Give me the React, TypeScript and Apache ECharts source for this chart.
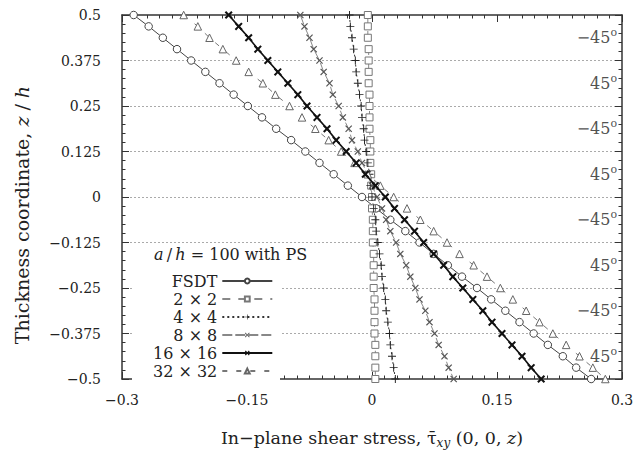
import React, { useEffect, useRef } from "react";
import * as echarts from "echarts";

const FONT = "'DejaVu Serif', 'Liberation Serif', serif";

// Thickness coordinates z/h of the sampled points (top to bottom)
const zValues = [
  0.5, 0.46875, 0.4375, 0.40625, 0.375, 0.34375, 0.3125, 0.28125, 0.25, 0.21875,
  0.1875, 0.15625, 0.125, 0.09375, 0.0625, 0.03125, 0, -0.03125, -0.0625, -0.09375,
  -0.125, -0.15625, -0.1875, -0.21875, -0.25, -0.28125, -0.3125, -0.34375, -0.375,
  -0.40625, -0.4375, -0.46875, -0.5,
];

const fsdt = [
  -0.286, -0.268, -0.251, -0.234, -0.217, -0.2, -0.183, -0.166, -0.149, -0.132,
  -0.115, -0.097, -0.08, -0.063, -0.046, -0.029, -0.012, 0.005, 0.022, 0.04,
  0.057, 0.074, 0.091, 0.108, 0.126, 0.143, 0.16, 0.177, 0.194, 0.211, 0.229,
  0.245, 0.263,
];
const mesh2 = [
  -0.005, -0.005, -0.005, -0.004, -0.004, -0.004, -0.004, -0.003, -0.003, -0.003,
  -0.003, -0.002, -0.002, -0.002, -0.001, -0.001, 0.0, 0.0, 0.001, 0.001, 0.001,
  0.002, 0.002, 0.002, 0.002, 0.003, 0.003, 0.003, 0.003, 0.004, 0.004, 0.004,
  0.004,
];
const mesh4 = [
  -0.027, -0.026, -0.024, -0.022, -0.02, -0.019, -0.017, -0.015, -0.013, -0.012,
  -0.01, -0.009, -0.007, -0.005, -0.003, -0.002, 0.0, 0.002, 0.004, 0.005, 0.007,
  0.009, 0.011, 0.012, 0.014, 0.016, 0.017, 0.019, 0.021, 0.022, 0.024, 0.026,
  0.028,
];
const mesh8 = [
  -0.086, -0.081, -0.075, -0.07, -0.063, -0.058, -0.051, -0.047, -0.04, -0.035,
  -0.028, -0.024, -0.017, -0.012, -0.005, 0.0, 0.006, 0.012, 0.017, 0.022, 0.029,
  0.034, 0.041, 0.046, 0.052, 0.057, 0.064, 0.069, 0.075, 0.08, 0.087, 0.092,
  0.098,
];
const mesh16 = [
  -0.172, -0.16, -0.148, -0.137, -0.125, -0.113, -0.101, -0.089, -0.078, -0.066,
  -0.054, -0.043, -0.031, -0.019, -0.008, 0.004, 0.016, 0.027, 0.039, 0.051,
  0.062, 0.074, 0.086, 0.097, 0.109, 0.121, 0.133, 0.144, 0.156, 0.168, 0.18,
  0.191, 0.203,
];
const mesh32 = [
  -0.226, -0.209, -0.195, -0.179, -0.163, -0.148, -0.131, -0.116, -0.099, -0.084,
  -0.068, -0.052, -0.037, -0.021, -0.005, 0.01, 0.026, 0.042, 0.058, 0.074, 0.09,
  0.105, 0.122, 0.138, 0.154, 0.169, 0.185, 0.201, 0.217, 0.233, 0.249, 0.265,
  0.28,
];

const seriesNames = ["FSDT", "2 × 2", "4 × 4", "8 × 8", "16 × 16", "32 × 32"];

// Ply orientation labels (layer mid-planes)
const layerZ = [0.4375, 0.3125, 0.1875, 0.0625, -0.0625, -0.1875, -0.3125, -0.4375];
const layerAngles = ["\u221245", "45", "\u221245", "45", "\u221245", "45", "\u221245", "45"];

const xTickLabels: Record<string, string> = {
  "-0.3": "\u22120.3",
  "-0.15": "\u22120.15",
  "0": "0",
  "0.15": "0.15",
  "0.3": "0.3",
};
const yTickLabels: Record<string, string> = {
  "0.5": "0.5",
  "0.375": "0.375",
  "0.25": "0.25",
  "0.125": "0.125",
  "0": "0",
  "-0.125": "\u22120.125",
  "-0.25": "\u22120.25",
  "-0.375": "\u22120.375",
  "-0.5": "\u22120.5",
};

const X_SYM = "path://M1.2,0 L5,3.8 L8.8,0 L10,1.2 L6.2,5 L10,8.8 L8.8,10 L5,6.2 L1.2,10 L0,8.8 L3.8,5 L0,1.2 Z";
const PLUS_SYM = "path://M4.4,0 H5.6 V4.4 H10 V5.6 H5.6 V10 H4.4 V5.6 H0 V4.4 H4.4 Z";
const STAR_SYM = "path://M0,1.8 L1.8,0 L5,3.2 L8.2,0 L10,1.8 L6.8,5 L10,8.2 L8.2,10 L5,6.8 L1.8,10 L0,8.2 L3.2,5 Z M3,3 H7 V7 H3 Z";

function pairs(xs: number[]) {
  return xs.map((x, i) => [x, zValues[i]]);
}

export default function App() {
  const ref = useRef<HTMLDivElement>(null);
  useEffect(() => {
    if (!ref.current) return;
    const chart = echarts.init(ref.current, null, { renderer: "svg" });
    const axisLineStyle = { color: "#333", width: 1.5 };
    const tickStyle = { color: "#333", width: 1 };
    const common = {
      type: "line",
      animation: false,
      emphasis: { disabled: true },
      silent: true,
    };
    const option: any = {
      animation: false,
      backgroundColor: "#fff",
      textStyle: { fontFamily: FONT },
      grid: { left: 122, right: 16, top: 15, bottom: 70 },
      xAxis: [
        {
          type: "value",
          min: -0.3,
          max: 0.3,
          interval: 0.15,
          axisLine: { show: true, onZero: false, lineStyle: axisLineStyle },
          axisTick: { inside: true, length: 7, lineStyle: tickStyle },
          minorTick: { show: true, splitNumber: 10, length: 3.5, lineStyle: tickStyle },
          splitLine: { show: false },
          axisLabel: {
            margin: 14,
            fontFamily: FONT,
            fontSize: 14,
            color: "#222",
            formatter: (v: number) => xTickLabels[String(Math.round(v * 1000) / 1000)] ?? String(v),
          },
          name:
            "{t|In\u2212plane shear stress, }{tau|\u03C4\u0304}{sub|xy}{t| (0, 0, }{i|z}{t|)}",
          nameLocation: "middle",
          nameGap: 48,
          nameTextStyle: {
            rich: {
              t: { fontFamily: FONT, fontSize: 17.5, color: "#222" },
              i: { fontFamily: FONT, fontSize: 17.5, fontStyle: "italic", color: "#222" },
              tau: { fontFamily: FONT, fontSize: 17.5, color: "#222" },
              sub: {
                fontFamily: FONT,
                fontSize: 12,
                fontStyle: "italic",
                color: "#222",
                padding: [10, 0, 0, 0],
              },
            },
          },
        },
        {
          type: "value",
          position: "top",
          min: -0.3,
          max: 0.3,
          interval: 0.15,
          axisLine: { show: true, onZero: false, lineStyle: axisLineStyle },
          axisTick: { inside: true, length: 7, lineStyle: tickStyle },
          minorTick: { show: true, splitNumber: 10, length: 3.5, lineStyle: tickStyle },
          splitLine: { show: false },
          axisLabel: { show: false },
        },
      ],
      yAxis: [
        {
          type: "value",
          min: -0.5,
          max: 0.5,
          interval: 0.125,
          axisLine: { show: true, onZero: false, lineStyle: axisLineStyle },
          axisTick: { inside: true, length: 7, lineStyle: tickStyle },
          minorTick: { show: true, splitNumber: 5, length: 3.5, lineStyle: tickStyle },
          splitLine: {
            show: true,
            showMinLine: false,
            showMaxLine: false,
            lineStyle: { color: "#aaa", type: [2, 2], width: 1 },
          },
          axisLabel: {
            margin: 21,
            fontFamily: FONT,
            fontSize: 14,
            color: "#222",
            formatter: (v: number) => yTickLabels[String(Math.round(v * 1000) / 1000)] ?? String(v),
          },
        },
        {
          type: "value",
          position: "right",
          min: -0.5,
          max: 0.5,
          interval: 0.125,
          axisLine: { show: true, onZero: false, lineStyle: axisLineStyle },
          axisTick: { inside: true, length: 7, lineStyle: tickStyle },
          minorTick: { show: true, splitNumber: 5, length: 3.5, lineStyle: tickStyle },
          splitLine: { show: false },
          axisLabel: { show: false },
        },
      ],
      legend: {
        data: seriesNames,
        orient: "vertical",
        left: 148,
        top: 268,
        align: "right",
        itemWidth: 50,
        itemHeight: 6,
        itemGap: 2,
        selectedMode: false,
        textStyle: {
          fontFamily: FONT,
          fontSize: 16,
          color: "#222",
          width: 68,
          align: "right",
        },
        z: 5,
      },
      graphic: [
        {
          type: "rect",
          shape: { x: 132, y: 250, width: 148, height: 132 },
          style: { fill: "#fff" },
          z: 3,
          silent: true,
        },
        {
          type: "text",
          x: 154,
          y: 246,
          z: 5,
          style: {
            text: "{i|a}\u2009/\u2009{i|h} = 100 with PS",
            rich: {
              i: { fontFamily: FONT, fontSize: 16, fontStyle: "italic", fill: "#222" },
            },
            fontFamily: FONT,
            fontSize: 16,
            fill: "#222",
          },
        },
        {
          type: "text",
          x: 22,
          y: 215,
          rotation: Math.PI / 2,
          z: 5,
          style: {
            text: "{t|Thickness coordinate, }{i|z}{t| / }{i|h}",
            align: "center",
            verticalAlign: "middle",
            rich: {
              t: { fontFamily: FONT, fontSize: 19, fill: "#222" },
              i: { fontFamily: FONT, fontSize: 19, fontStyle: "italic", fill: "#222" },
            },
          },
        },
      ],
      series: [
        {
          ...common,
          name: seriesNames[0],
          data: pairs(fsdt),
          symbol: "circle",
          symbolSize: 7.5,
          lineStyle: { color: "#444", width: 1 },
          itemStyle: { color: "#fff", borderColor: "#444", borderWidth: 1 },
          z: 3,
        },
        {
          ...common,
          name: seriesNames[1],
          data: pairs(mesh2),
          symbol: "rect",
          symbolSize: 7,
          lineStyle: { color: "#888", width: 1, type: [8, 8] },
          itemStyle: { color: "#fff", borderColor: "#777", borderWidth: 1 },
          z: 3,
        },
        {
          ...common,
          name: seriesNames[2],
          data: pairs(mesh4),
          symbol: PLUS_SYM,
          symbolSize: 8,
          lineStyle: { color: "#333", width: 1, type: [2, 3] },
          itemStyle: { color: "#222", borderWidth: 0 },
          z: 3,
        },
        {
          ...common,
          name: seriesNames[3],
          data: pairs(mesh8),
          symbol: X_SYM,
          symbolSize: 7,
          lineStyle: { color: "#888", width: 1, type: [10, 3] },
          itemStyle: { color: "#555", borderWidth: 0 },
          z: 3,
        },
        {
          ...common,
          name: seriesNames[4],
          data: pairs(mesh16),
          symbol: STAR_SYM,
          symbolSize: 8,
          lineStyle: { color: "#111", width: 1.6 },
          itemStyle: { color: "#111", borderWidth: 0 },
          z: 4,
        },
        {
          ...common,
          name: seriesNames[5],
          data: pairs(mesh32),
          symbol: "triangle",
          symbolSize: 7.5,
          lineStyle: { color: "#777", width: 1, type: [5, 9] },
          itemStyle: { color: "#fff", borderColor: "#666", borderWidth: 1 },
          z: 3,
        },
        {
          type: "scatter",
          name: "layers",
          silent: true,
          data: layerZ.map((z) => [0.3, z]),
          symbolSize: 0,
          z: 6,
          label: {
            show: true,
            position: "left",
            distance: 5,
            formatter: (p: any) => `{n|${layerAngles[p.dataIndex]}}{s|o}`,
            rich: {
              n: { fontFamily: FONT, fontSize: 16, color: "#222", lineHeight: 18 },
              s: { fontFamily: FONT, fontSize: 11, color: "#222", padding: [0, 0, 10, 0] },
            },
          },
        },
      ],
    };
    chart.setOption(option);
    return () => chart.dispose();
  }, []);
  return (
    <div
      ref={ref}
      style={{ position: "fixed", left: 0, top: 0, width: 638, height: 454, background: "#fff" }}
    />
  );
}
